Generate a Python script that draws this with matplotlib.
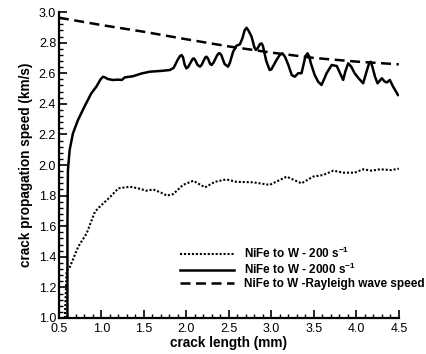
import matplotlib
matplotlib.use("Agg")
import matplotlib.pyplot as plt
from matplotlib.ticker import MultipleLocator, FormatStrFormatter

plt.rcParams['font.family'] = ['Liberation Sans', 'DejaVu Sans']
plt.rcParams['mathtext.fontset'] = 'custom'
plt.rcParams['mathtext.rm'] = 'Liberation Sans:bold'
plt.rcParams['mathtext.it'] = 'Liberation Sans:bold'
plt.rcParams['mathtext.bf'] = 'Liberation Sans:bold'

# Rayleigh wave speed
x_ray = [0.5, 1.0, 1.5, 2.0, 2.5, 3.0, 3.5, 4.0, 4.5]
y_ray = [2.963, 2.915, 2.871, 2.822, 2.775, 2.735, 2.700, 2.676, 2.658]

# 2000 s^-1
x_2000 = [0.600, 0.600, 0.606, 0.626, 0.665, 0.724, 0.80, 0.88, 0.94, 0.99, 1.018, 1.045,
          1.076, 1.135, 1.194, 1.24, 1.276, 1.37, 1.47, 1.57, 1.70, 1.806, 1.85,
          1.90, 1.925, 1.943, 1.96, 1.98, 2.0, 2.02,
          2.06, 2.075, 2.088, 2.105, 2.13, 2.159, 2.18,
          2.21, 2.225, 2.238, 2.255, 2.28, 2.296, 2.32,
          2.36, 2.38, 2.394, 2.41, 2.45, 2.49, 2.51, 2.55, 2.59, 2.63, 2.66,
          2.685, 2.708, 2.73, 2.767, 2.80, 2.818, 2.84, 2.865, 2.884, 2.90, 2.94,
          2.98, 3.0, 3.06, 3.10, 3.13, 3.16, 3.2, 3.24, 3.276, 3.315, 3.355, 3.38,
          3.40, 3.426, 3.445, 3.465, 3.51, 3.55, 3.59, 3.62, 3.65, 3.71, 3.77, 3.80,
          3.845, 3.87, 3.904, 3.94, 3.98, 4.03, 4.08, 4.12, 4.15, 4.17, 4.19, 4.22,
          4.25, 4.30, 4.335, 4.36, 4.394, 4.433, 4.49]
y_2000 = [1.0, 1.6, 1.967, 2.098, 2.207, 2.294, 2.381, 2.468, 2.512, 2.56, 2.577, 2.572,
          2.562, 2.556, 2.558, 2.556, 2.573, 2.58, 2.598, 2.61, 2.615, 2.621, 2.635,
          2.69, 2.712, 2.719, 2.705, 2.655, 2.632, 2.64,
          2.68, 2.694, 2.697, 2.685, 2.655, 2.643, 2.655,
          2.69, 2.705, 2.708, 2.695, 2.66, 2.654, 2.67,
          2.715, 2.73, 2.73, 2.72, 2.66, 2.643, 2.665, 2.741, 2.78, 2.789, 2.83,
          2.88, 2.897, 2.88, 2.839, 2.77, 2.752, 2.765, 2.79, 2.795, 2.78, 2.68,
          2.621, 2.625, 2.686, 2.72, 2.73, 2.708, 2.654, 2.588, 2.577, 2.6, 2.6, 2.66,
          2.71, 2.73, 2.71, 2.665, 2.588, 2.545, 2.523, 2.56, 2.6, 2.654, 2.647, 2.61,
          2.556, 2.61, 2.665, 2.643, 2.6, 2.565, 2.534, 2.61, 2.665, 2.675, 2.64, 2.577,
          2.534, 2.567, 2.545, 2.54, 2.556, 2.512, 2.458]

# 200 s^-1
x_200 = [0.57, 0.58, 0.59, 0.63, 0.727, 0.826, 0.924, 0.98, 1.1, 1.20, 1.335, 1.43, 1.53,
         1.61, 1.70, 1.77, 1.845, 1.96, 2.08, 2.22, 2.335, 2.47, 2.59, 2.786, 2.98,
         3.18, 3.355, 3.49, 3.61, 3.73, 3.845, 3.98, 4.08, 4.18, 4.28, 4.41, 4.5]
y_200 = [1.0, 1.15, 1.31, 1.335, 1.466, 1.553, 1.695, 1.727, 1.79, 1.848, 1.858, 1.848, 1.832,
         1.84, 1.82, 1.80, 1.81, 1.87, 1.897, 1.854, 1.89, 1.906, 1.89, 1.887, 1.87,
         1.924, 1.88, 1.924, 1.935, 1.963, 1.95, 1.95, 1.972, 1.963, 1.972, 1.967, 1.976]

labels = [r'NiFe to W - 200 s$^{-1}$', r'NiFe to W - 2000 s$^{-1}$',
          'NiFe to W -Rayleigh wave speed']

fig = plt.figure(figsize=(4.27, 3.54), dpi=100)
ax = fig.add_axes([0.138, 0.1017, 0.796, 0.8643])

ax.plot(x_200, y_200, color='black', lw=1.5, linestyle=(0, (1, 0.9)), label=labels[0])
ax.plot(x_2000, y_2000, color='black', lw=1.8, solid_joinstyle='round', label=labels[1])
ax.plot(x_ray, y_ray, color='black', lw=1.8, linestyle=(0, (4.0, 2.2)), label=labels[2])

ax.set_xlim(0.5, 4.5)
ax.set_ylim(1.0, 3.0)
ax.xaxis.set_major_locator(MultipleLocator(0.5))
ax.xaxis.set_minor_locator(MultipleLocator(0.1))
ax.yaxis.set_major_locator(MultipleLocator(0.2))
ax.yaxis.set_minor_locator(MultipleLocator(0.04))
ax.xaxis.set_major_formatter(FormatStrFormatter('%.1f'))
ax.yaxis.set_major_formatter(FormatStrFormatter('%.1f'))

for s in ['top', 'right']:
    ax.spines[s].set_visible(False)
for s in ['left', 'bottom']:
    ax.spines[s].set_linewidth(1.6)

ax.tick_params(which='major', direction='in', length=6, width=1.2, labelsize=9, pad=2)
ax.tick_params(axis='x', which='major', pad=3.5)
ax.tick_params(which='minor', direction='in', length=3, width=1.0)

ax.set_xlabel('crack length (mm)', fontsize=9.8, fontweight='bold', labelpad=1)
ax.set_ylabel('crack propagation speed (km/s)', fontsize=9.8, fontweight='bold', labelpad=4)

leg = fig.legend(loc='upper left', bbox_to_anchor=(180 / 427, 1 - 246 / 354), frameon=False,
                 prop={'weight': 'bold', 'size': 8.5}, handlelength=4.6,
                 handletextpad=0.8, labelspacing=0.08, borderpad=0, borderaxespad=0)

fig.savefig('out.png', dpi=100)
